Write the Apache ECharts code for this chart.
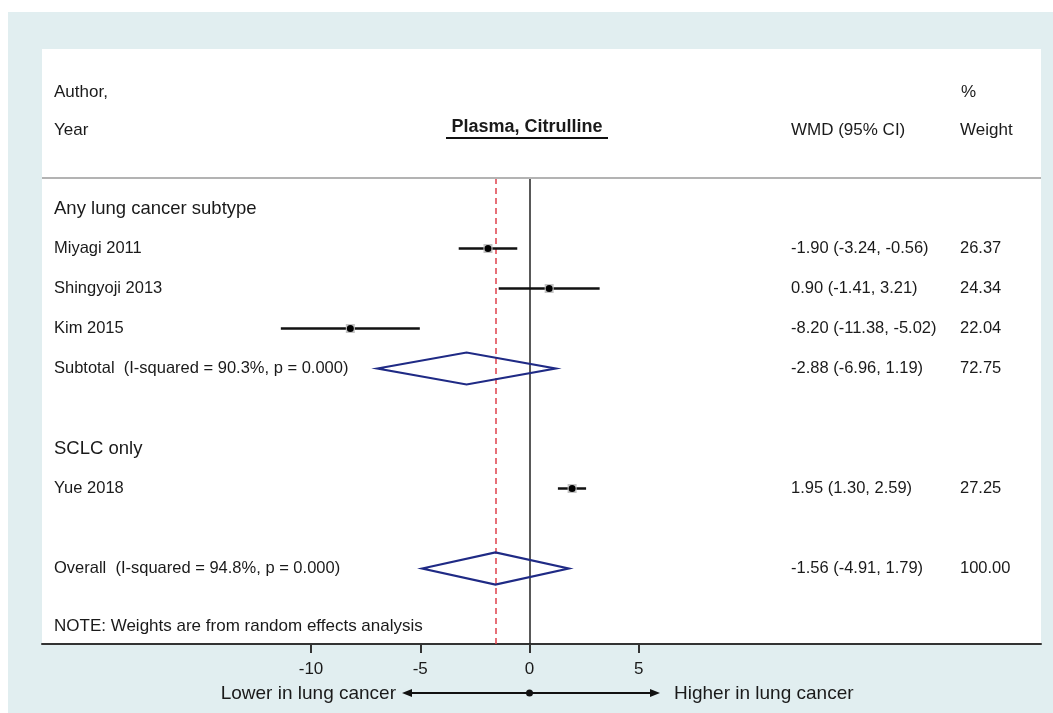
<!DOCTYPE html>
<html>
<head>
<meta charset="utf-8">
<script src="https://cdn.jsdelivr.net/npm/echarts@6/dist/echarts.min.js"></script>
<style>
html,body{margin:0;padding:0;background:#ffffff;}
#c{width:1053px;height:713px;}
</style>
</head>
<body>
<div id="c"></div>
<script>
// ---------- data ----------
const rowLabels = [
  'Any lung cancer subtype',
  'Miyagi 2011',
  'Shingyoji 2013',
  'Kim 2015',
  'Subtotal  (I-squared = 90.3%, p = 0.000)',
  '',
  'SCLC only',
  'Yue 2018',
  '',
  'Overall  (I-squared = 94.8%, p = 0.000)'
];
const rowTypes  = ['head', 'study', 'study', 'study', 'pooled', 'blank', 'head', 'study', 'blank', 'pooled'];
const estimates = [null, -1.90, 0.90, -8.20, -2.88, null, null, 1.95, null, -1.56];
const lowerCI   = [null, -3.24, -1.41, -11.38, -6.96, null, null, 1.30, null, -4.91];
const upperCI   = [null, -0.56, 3.21, -5.02, 1.19, null, null, 2.59, null, 1.79];
const weights   = [null, 26.37, 24.34, 22.04, 72.75, null, null, 27.25, null, 100.00];
const xTicks    = [-10, -5, 0, 5];
const overallEstimate = -1.56;
const noteText = 'NOTE: Weights are from random effects analysis';
const plotTitle = 'Plasma, Citrulline';

// ---------- layout ----------
const FONT = "'Liberation Sans', Arial, Helvetica, sans-serif";
const TXT = '#1a1a1a';
const X0PIX = 529.5, XUNIT = 21.85;
const GL = 42, GR = 1041, GT = 178, GB = 644;
const XMIN = (GL - X0PIX) / XUNIT, XMAX = (GR - X0PIX) / XUNIT;
const ROW0 = 208.5, ROWH = 40;
const YMIN = -(ROW0 - GT) / ROWH, YMAX = YMIN + (GB - GT) / ROWH;

const chart = echarts.init(document.getElementById('c'));

function renderRow(params, api) {
  const i = params.dataIndex;
  const type = rowTypes[i];
  const cy = api.coord([0, i])[1];
  const children = [];
  if (type === 'blank') return {type: 'group', children: []};
  const isHead = type === 'head';
  children.push({
    type: 'text',
    style: {
      text: rowLabels[i], x: 54, y: cy, fill: TXT,
      fontSize: isHead ? 18.5 : 16.5, fontFamily: FONT,
      align: 'left', verticalAlign: 'middle'
    }
  });
  if (type === 'study' || type === 'pooled') {
    const pe = api.coord([estimates[i], i]);
    const pl = api.coord([lowerCI[i], i]);
    const pu = api.coord([upperCI[i], i]);
    if (type === 'study') {
      children.push({type: 'line', shape: {x1: pl[0], y1: cy, x2: pu[0], y2: cy},
        style: {stroke: '#111', lineWidth: 2.5}});
      children.push({type: 'rect', shape: {x: pe[0] - 4.5, y: cy - 4.5, width: 9, height: 9},
        style: {fill: '#c4c4c4'}});
      children.push({type: 'circle', shape: {cx: pe[0], cy: cy, r: 3.5},
        style: {fill: '#000'}});
    } else {
      const h = 16;
      children.push({type: 'polygon',
        shape: {points: [[pl[0], cy], [pe[0], cy - h], [pu[0], cy], [pe[0], cy + h]]},
        style: {fill: 'none', stroke: '#1f2a85', lineWidth: 2.2}});
    }
    const wmd = estimates[i].toFixed(2) + ' (' + lowerCI[i].toFixed(2) + ', ' + upperCI[i].toFixed(2) + ')';
    children.push({type: 'text', style: {text: wmd, x: 791, y: cy, fill: TXT, fontSize: 16.5,
      fontFamily: FONT, align: 'left', verticalAlign: 'middle'}});
    children.push({type: 'text', style: {text: weights[i].toFixed(2), x: 960, y: cy, fill: TXT, fontSize: 16.5,
      fontFamily: FONT, align: 'left', verticalAlign: 'middle'}});
  }
  return {type: 'group', children: children};
}

function txt(text, x, y, size, opts) {
  return Object.assign({
    type: 'text', z: 50,
    style: Object.assign({text: text, x: x, y: y, fill: TXT, fontSize: size, fontFamily: FONT,
      align: 'left', verticalAlign: 'middle'}, opts || {})
  });
}

const graphics = [
  {type: 'rect', z: -100, silent: true, shape: {x: 8, y: 12, width: 1045, height: 701}, style: {fill: '#e1eef0'}},
  {type: 'rect', z: -99, silent: true, shape: {x: GL, y: 49, width: GR - GL, height: GB - 49}, style: {fill: '#ffffff'}},
  {type: 'line', z: 40, shape: {x1: GL, y1: GT, x2: GR, y2: GT}, style: {stroke: '#b3b3b3', lineWidth: 2}},
  txt('Author,', 54, 92, 17),
  txt('Year', 54, 130, 17),
  txt(plotTitle, 527, 127, 18, {fontWeight: 'bold', align: 'center'}),
  {type: 'line', z: 50, shape: {x1: 446, y1: 138, x2: 608, y2: 138}, style: {stroke: '#111', lineWidth: 2}},
  txt('WMD (95% CI)', 791, 130, 17),
  txt('%', 961, 92, 17),
  txt('Weight', 960, 130, 17),
  txt(noteText, 54, 626, 17),
  txt('Lower in lung cancer', 396, 694, 19, {align: 'right'}),
  txt('Higher in lung cancer', 674, 694, 19),
  {type: 'line', z: 50, shape: {x1: 408, y1: 693, x2: 654, y2: 693}, style: {stroke: '#111', lineWidth: 2}},
  {type: 'polygon', z: 50, shape: {points: [[402, 693], [412, 689], [412, 697]]}, style: {fill: '#111'}},
  {type: 'polygon', z: 50, shape: {points: [[660, 693], [650, 689], [650, 697]]}, style: {fill: '#111'}},
  {type: 'circle', z: 50, shape: {cx: X0PIX, cy: 693, r: 3.5}, style: {fill: '#111'}}
];

chart.setOption({
  backgroundColor: 'transparent',
  animation: false,
  textStyle: {fontFamily: FONT},
  grid: {left: GL, right: 1053 - GR, top: GT, bottom: 713 - GB, containLabel: false},
  xAxis: {
    type: 'value', min: XMIN, max: XMAX,
    axisLine: {show: true, onZero: false, lineStyle: {color: '#333', width: 2}},
    axisTick: {show: true, customValues: xTicks, length: 9, lineStyle: {color: '#333', width: 2}},
    axisLabel: {show: true, customValues: xTicks, fontSize: 17, color: TXT, margin: 17, fontFamily: FONT},
    splitLine: {show: false}
  },
  yAxis: {type: 'value', inverse: true, min: YMIN, max: YMAX, show: false},
  graphic: graphics,
  series: [{
    type: 'custom',
    clip: false,
    renderItem: renderRow,
    encode: {x: 0, y: 1},
    data: rowLabels.map((_, i) => [0, i]),
    z: 5,
    markLine: {
      silent: true, symbol: 'none', label: {show: false}, animation: false,
      data: [
        {xAxis: 0, lineStyle: {color: '#222', width: 1.5, type: 'solid'}},
        {xAxis: overallEstimate, lineStyle: {color: '#e0424c', width: 1.5, type: [6, 4]}}
      ]
    }
  }]
});
</script>
</body>
</html>
